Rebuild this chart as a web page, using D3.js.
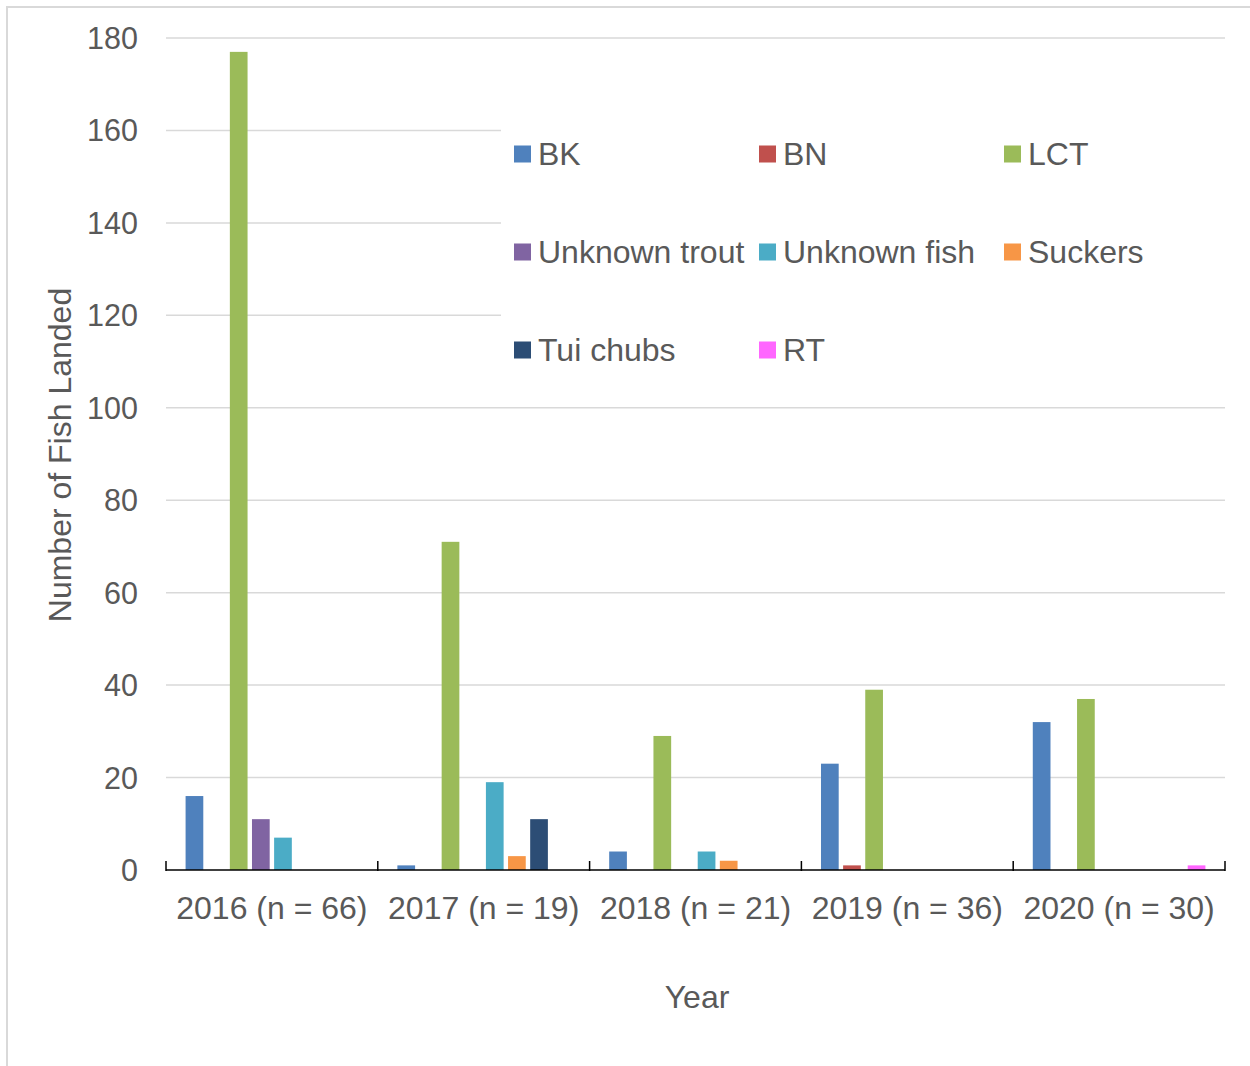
<!DOCTYPE html>
<html>
<head>
<meta charset="utf-8">
<script src="https://cdn.jsdelivr.net/npm/d3@7"></script>
<style>
  html, body { margin: 0; padding: 0; background: #fff; }
  svg { display: block; font-family: "Liberation Sans", Arial, sans-serif; }
</style>
</head>
<body>
<svg id="chart" width="1250" height="1066"></svg>
<script>
// Fish landed per year, by species group
const years = ["2016 (n = 66)", "2017 (n = 19)", "2018 (n = 21)", "2019 (n = 36)", "2020 (n = 30)"];
const species = ["BK", "BN", "LCT", "Unknown trout", "Unknown fish", "Suckers", "Tui chubs", "RT"];
const colors = ["#4f81bd", "#c0504d", "#9bbb59", "#8064a2", "#4bacc6", "#f79646", "#2c4d75", "#ff66ff"];

const BK           = [16, 1, 4, 23, 32];
const BN           = [0, 0, 0, 1, 0];
const LCT          = [177, 71, 29, 39, 37];
const UnknownTrout = [11, 0, 0, 0, 0];
const UnknownFish  = [7, 19, 4, 0, 0];
const Suckers      = [0, 3, 2, 0, 0];
const TuiChubs     = [0, 11, 0, 0, 0];
const RT           = [0, 0, 0, 0, 1];
const seriesValues = [BK, BN, LCT, UnknownTrout, UnknownFish, Suckers, TuiChubs, RT];

const yTicks = [0, 20, 40, 60, 80, 100, 120, 140, 160, 180];

const svg = d3.select("#chart");
const textColor = "#595959";
const gridColor = "#d9d9d9";

// outer chart frame
svg.append("rect")
  .attr("x", 7).attr("y", 7).attr("width", 1260).attr("height", 1080)
  .attr("fill", "none").attr("stroke", gridColor).attr("stroke-width", 2);

const plot = { left: 166, right: 1225, top: 38, bottom: 870 };

const y = d3.scaleLinear().domain([0, 180]).range([plot.bottom, plot.top]);
const x0 = d3.scaleBand().domain(years).range([plot.left, plot.right]).padding(0);
const x1 = d3.scaleBand().domain(species).range([0, x0.bandwidth()])
  .paddingInner(0.2).paddingOuter(0.885);

// gridlines
svg.append("g")
  .selectAll("line")
  .data(yTicks.filter(d => d > 0))
  .join("line")
  .attr("x1", plot.left).attr("x2", plot.right)
  .attr("y1", d => y(d)).attr("y2", d => y(d))
  .attr("stroke", gridColor).attr("stroke-width", 1.5);

// y tick labels
svg.append("g")
  .selectAll("text")
  .data(yTicks)
  .join("text")
  .attr("x", 138).attr("y", d => y(d))
  .attr("dy", "0.36em")
  .attr("text-anchor", "end")
  .attr("font-size", 30.5)
  .attr("fill", textColor)
  .text(d => d);

// legend (white backdrop covers the gridlines behind it)
const legendBox = { x: 501, y: 118, w: plot.right - 501, h: 270 };
svg.append("rect")
  .attr("x", legendBox.x).attr("y", legendBox.y)
  .attr("width", legendBox.w).attr("height", legendBox.h)
  .attr("fill", "#fff");

// bars
const groups = svg.append("g")
  .selectAll("g")
  .data(years)
  .join("g")
  .attr("transform", d => `translate(${x0(d)},0)`);

groups.selectAll("rect")
  .data((d, yi) => species.map((s, si) => ({ s, si, v: seriesValues[si][yi] })))
  .join("rect")
  .attr("x", d => x1(d.s))
  .attr("width", x1.bandwidth())
  .attr("y", d => y(d.v))
  .attr("height", d => y(0) - y(d.v))
  .attr("fill", d => colors[d.si]);

// x axis line and inside ticks
const axis = svg.append("g");
axis.append("line")
  .attr("x1", plot.left).attr("x2", plot.right)
  .attr("y1", plot.bottom).attr("y2", plot.bottom)
  .attr("stroke", "#000").attr("stroke-width", 1.5);
const tickPositions = years.map(d => x0(d)).concat([plot.right]);
axis.selectAll("line.tick")
  .data(tickPositions)
  .join("line")
  .attr("class", "tick")
  .attr("x1", d => d).attr("x2", d => d)
  .attr("y1", plot.bottom - 9).attr("y2", plot.bottom + 1)
  .attr("stroke", "#000").attr("stroke-width", 1.5);

// x category labels
svg.append("g")
  .selectAll("text")
  .data(years)
  .join("text")
  .attr("x", d => x0(d) + x0.bandwidth() / 2)
  .attr("y", 919)
  .attr("text-anchor", "middle")
  .attr("font-size", 32)
  .attr("fill", textColor)
  .text(d => d);

// axis titles
svg.append("text")
  .attr("x", 697).attr("y", 1008)
  .attr("text-anchor", "middle")
  .attr("font-size", 32)
  .attr("fill", textColor)
  .text("Year");

svg.append("text")
  .attr("transform", "translate(71,455) rotate(-90)")
  .attr("text-anchor", "middle")
  .attr("font-size", 32)
  .attr("fill", textColor)
  .text("Number of Fish Landed");

// legend entries: 3 columns
const legendCols = [514, 759, 1004];
const legendRows = [154, 252, 350];
const legend = svg.append("g")
  .selectAll("g")
  .data(species)
  .join("g")
  .attr("transform", (d, i) => `translate(${legendCols[i % 3]},${legendRows[Math.floor(i / 3)]})`);
legend.append("rect")
  .attr("x", 0).attr("y", -8.5).attr("width", 17).attr("height", 17)
  .attr("fill", (d, i) => colors[i]);
legend.append("text")
  .attr("x", 24).attr("y", -1).attr("dy", "0.36em")
  .attr("font-size", 32)
  .attr("fill", textColor)
  .text(d => d);
</script>
</body>
</html>
